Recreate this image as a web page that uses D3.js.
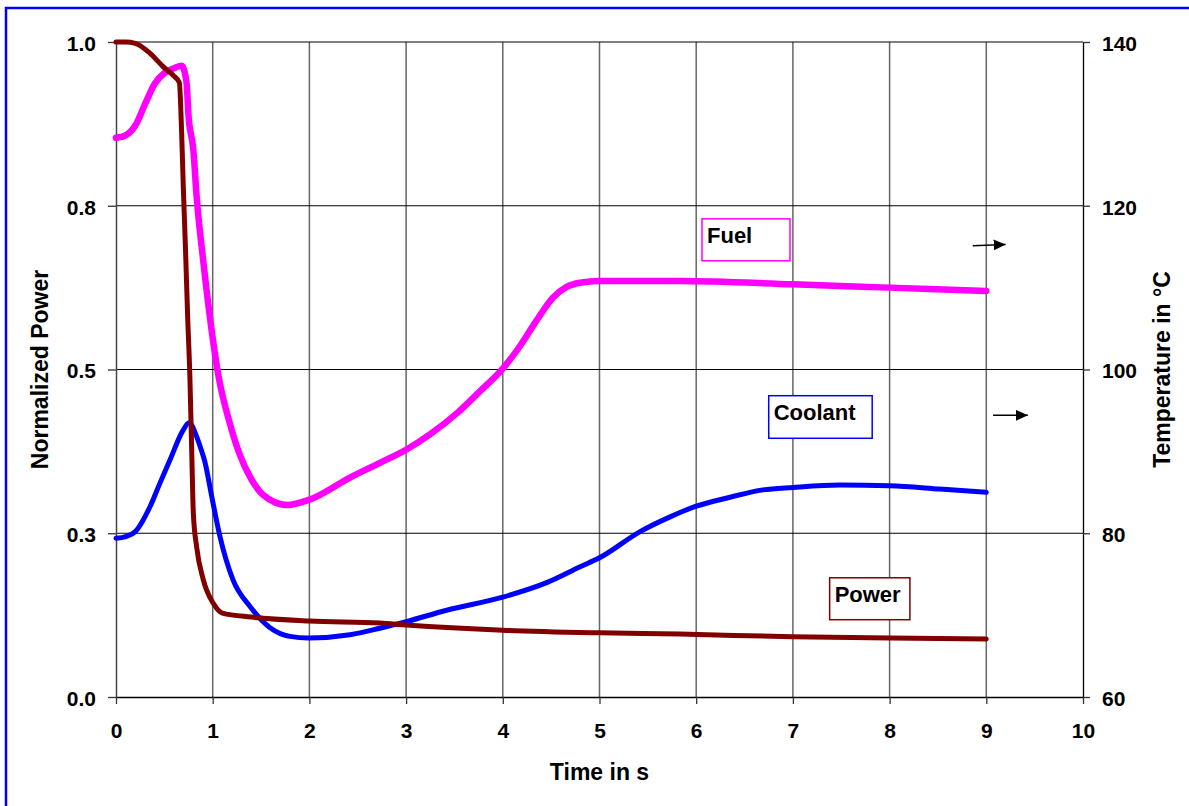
<!DOCTYPE html>
<html><head><meta charset="utf-8">
<script src="https://cdn.jsdelivr.net/npm/d3@7"></script>
<style>
html,body{margin:0;padding:0;background:#fff;}
svg{display:block;}
text{font-family:"Liberation Sans",Arial,sans-serif;font-weight:bold;fill:#000;}
</style></head>
<body><svg id="c" width="1189" height="806"></svg>
<script>
// ---- data ----
const powerTime = [0,0.1,0.2,0.35,0.49,0.6,0.655,0.679,0.696,0.72,0.74,0.765,0.782,0.80,0.834,0.903,1.006,1.1,1.4,2.0,2.73,3,4,5,5.83,7,8,9];
const powerVals = [1.0,1.0,0.998,0.983,0.962,0.948,0.938,0.861,0.779,0.678,0.585,0.484,0.382,0.280,0.229,0.179,0.143,0.128,0.122,0.116,0.113,0.110,0.102,0.098,0.096,0.092,0.090,0.0885];

const fuelTime = [0,0.1,0.2,0.3,0.4,0.5,0.6,0.68,0.73,0.748,0.80,0.834,0.9,0.97,1.06,1.18,1.28,1.39,1.52,1.77,2.0,2.42,2.73,3,3.25,3.53,3.76,4,4.18,4.35,4.52,4.66,4.8,5,5.42,5.83,7,8,9];
const fuelVals = [128.3,128.6,129.8,132.4,134.9,136.2,136.8,137.1,135.0,131.3,126.8,121.1,113.5,106.5,99.2,93.3,89.6,86.8,84.7,83.45,84.1,86.8,88.6,90.2,92.1,94.7,97.3,100.1,102.9,106.0,108.8,110.1,110.6,110.8,110.8,110.8,110.4,110.0,109.6];

const coolTime = [0,0.1,0.2,0.35,0.45,0.56,0.69,0.755,0.834,0.87,0.92,0.99,1.075,1.21,1.39,1.59,1.8,1.99,2.42,2.73,3,3.42,4,4.46,4.8,5,5.42,5.73,6,6.35,6.69,7,7.49,8,8.52,9];
const coolVals = [79.4,79.6,80.2,83.2,86.0,89.0,92.5,93.5,91.8,90.6,88.7,84.5,79.6,74.3,71.0,68.5,67.4,67.2,67.6,68.4,69.2,70.6,72.2,74.0,75.9,77.0,80.2,82.0,83.3,84.4,85.3,85.6,85.9,85.8,85.4,85.0];

const xTicks = [0,1,2,3,4,5,6,7,8,9,10];
const leftTicks = [0,0.25,0.5,0.75,1.0];
const leftTickLabels = ["0.0","0.3","0.5","0.8","1.0"];
const rightTicks = [60,80,100,120,140];

const xTitle = "Time in s";
const leftTitle = "Normalized Power";
const rightTitle = "Temperature in °C";
const labels = [{name:"Fuel", color:"#FF00FF"},{name:"Coolant", color:"#0000FF"},{name:"Power", color:"#800000"}];

// ---- layout ----
const svg = d3.select("#c");
const L = 116, R = 1083, T = 42, B = 697;
const x = d3.scaleLinear().domain([0,10]).range([L,R]);
const yL = d3.scaleLinear().domain([0,1]).range([B,T]);
const yR = d3.scaleLinear().domain([60,140]).range([B,T]);
const tickFont = "21px", labelFont = "22px", titleFont = "23px";

// outer blue frame
svg.append("rect").attr("x",6).attr("y",8).attr("width",1200).attr("height",820)
  .attr("fill","none").attr("stroke","#0000FF").attr("stroke-width",2.5);

// vertical gridlines
svg.append("g").selectAll("line").data(xTicks.filter(d=>d>0 && d<10)).join("line")
  .attr("x1",d=>x(d)).attr("x2",d=>x(d)).attr("y1",T).attr("y2",B)
  .attr("stroke","#666").attr("stroke-width",1.5);
// horizontal gridlines
svg.append("g").selectAll("line").data(leftTicks.filter(d=>d>0)).join("line")
  .attr("x1",L).attr("x2",R).attr("y1",d=>yL(d)).attr("y2",d=>yL(d))
  .attr("stroke","#000").attr("stroke-width",1);

// axes
const gx = svg.append("g").attr("transform",`translate(0,${B})`)
  .call(d3.axisBottom(x).tickValues(xTicks).tickSize(7).tickPadding(19).tickSizeOuter(0));
const gl = svg.append("g").attr("transform",`translate(${L},0)`)
  .call(d3.axisLeft(yL).tickValues(leftTicks).tickFormat((d,i)=>leftTickLabels[i]).tickSize(8).tickPadding(12).tickSizeOuter(0));
const gr = svg.append("g").attr("transform",`translate(${R},0)`)
  .call(d3.axisRight(yR).tickValues(rightTicks).tickSize(7).tickPadding(12).tickSizeOuter(0));
[gx,gl,gr].forEach(g=>{
  g.selectAll("text").style("font-size",tickFont).style("font-family","Liberation Sans, Arial, sans-serif").style("font-weight","bold").attr("fill","#000");
  g.selectAll("line").attr("stroke","#333").attr("stroke-width",1.3);
});
gl.select(".domain").attr("stroke","#444").attr("stroke-width",1.5);
gx.select(".domain").attr("stroke","#000").attr("stroke-width",1.5);
gr.select(".domain").attr("stroke","#000").attr("stroke-width",1.3);
gl.selectAll("text").attr("dy","0.4em");
gr.selectAll("text").attr("dy","0.4em");

// series
const lineL = d3.line().x(d=>x(d[0])).y(d=>yL(d[1])).curve(d3.curveMonotoneX);
const lineR = d3.line().x(d=>x(d[0])).y(d=>yR(d[1])).curve(d3.curveMonotoneX);
const fuel = fuelTime.map((t,i)=>[t,fuelVals[i]]);
const cool = coolTime.map((t,i)=>[t,coolVals[i]]);
const pow = powerTime.map((t,i)=>[t,powerVals[i]]);
svg.append("path").datum(fuel).attr("d",lineR).attr("fill","none").attr("stroke","#FF00FF").attr("stroke-width",6.5).attr("stroke-linejoin","round").attr("stroke-linecap","round");
svg.append("path").datum(cool).attr("d",lineR).attr("fill","none").attr("stroke","#0000FF").attr("stroke-width",5).attr("stroke-linejoin","round").attr("stroke-linecap","round");
svg.append("path").datum(pow).attr("d",lineL).attr("fill","none").attr("stroke","#800000").attr("stroke-width",5).attr("stroke-linejoin","round").attr("stroke-linecap","round");

// axis titles
svg.append("text").attr("x",x(5)).attr("y",780).attr("text-anchor","middle").style("font-size",titleFont).text(xTitle);
svg.append("text").attr("transform",`translate(48,${yL(0.5)}) rotate(-90)`).attr("text-anchor","middle").style("font-size",titleFont).text(leftTitle);
svg.append("text").attr("transform",`translate(1170,${yL(0.5)}) rotate(-90)`).attr("text-anchor","middle").style("font-size",titleFont).text(rightTitle);

// series labels (boxes)
const boxes = [
  {lab:labels[0], x0:6.06, x1:6.97, y0:0.73, y1:0.666},
  {lab:labels[1], x0:6.75, x1:7.82, y0:0.46, y1:0.395},
  {lab:labels[2], x0:7.38, x1:8.21, y0:0.182, y1:0.118}
];
boxes.forEach(b=>{
  svg.append("rect").attr("x",x(b.x0)).attr("y",yL(b.y0)).attr("width",x(b.x1)-x(b.x0)).attr("height",yL(b.y1)-yL(b.y0))
    .attr("fill","#fff").attr("stroke",b.lab.color).attr("stroke-width",1.5);
  svg.append("text").attr("x",x(b.x0)+5).attr("y",yL(b.y0)+24).style("font-size",labelFont).text(b.lab.name);
});

// arrows
const defs = svg.append("defs");
defs.append("marker").attr("id","ah").attr("viewBox","0 0 10 10").attr("refX",10).attr("refY",5)
  .attr("markerWidth",12).attr("markerHeight",11).attr("markerUnits","userSpaceOnUse").attr("orient","auto")
  .attr("preserveAspectRatio","none")
  .append("path").attr("d","M0,0L10,5L0,10Z").attr("fill","#000");
[[8.86,9.2,0.689,0.691],[9.07,9.43,0.43,0.43]].forEach(a=>{
  svg.append("line").attr("x1",x(a[0])).attr("x2",x(a[1])).attr("y1",yL(a[2])).attr("y2",yL(a[3]))
    .attr("stroke","#000").attr("stroke-width",1.5).attr("marker-end","url(#ah)");
});
</script></body></html>
